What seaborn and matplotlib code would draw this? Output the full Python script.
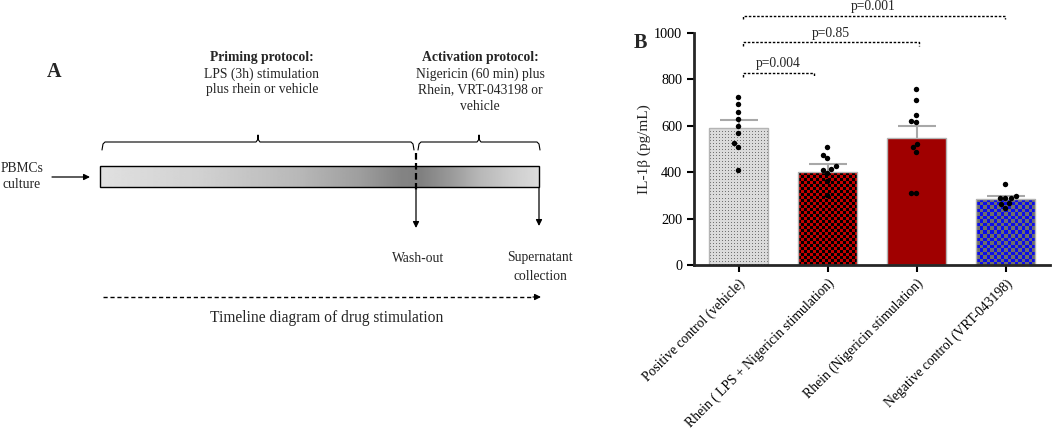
import numpy as np
import pandas as pd
import matplotlib
matplotlib.use("Agg")
import matplotlib.pyplot as plt
import seaborn as sns
from matplotlib.patches import Rectangle

# ---------------- data ----------------
categories = ["Positive control (vehicle)",
              "Rhein ( LPS + Nigericin stimulation)",
              "Rhein (Nigericin stimulation)",
              "Negative control (VRT-043198)"]
means = [591, 399, 549, 286]
sems = [32, 35, 49, 10]
points_pos = [723, 694, 661, 628, 599, 570, 524, 510, 409]
points_rlps = [510, 474, 460, 427, 414, 409, 395, 360, 300]
points_rnig = [759, 711, 648, 621, 615, 523, 507, 489, 309, 312]
points_neg = [349, 297, 287, 287, 287, 266, 263, 247]
yticks = [0, 200, 400, 600, 800, 1000]
pvals = ["p=0.004", "p=0.85", "p=0.001"]

sns.set_style("ticks")
plt.rcParams['font.family'] = ['Liberation Serif', 'DejaVu Serif']

W, H = 1052, 432
fig = plt.figure(figsize=(W / 100, H / 100), dpi=100)

# ---------------- Panel A (diagram) ----------------
axA = fig.add_axes([0, 0, 1, 1])
axA.set_xlim(0, W)
axA.set_ylim(H, 0)
axA.axis('off')

fsA = 9.8
axA.text(54, 72, "A", fontsize=14.5, fontweight='bold', ha='center', va='center')
axA.text(262, 57, "Priming protocol:", fontsize=fsA, fontweight='bold', ha='center', va='center')
axA.text(262, 74, "LPS (3h) stimulation", fontsize=fsA, ha='center', va='center')
axA.text(262, 90, "plus rhein or vehicle", fontsize=fsA, ha='center', va='center')
axA.text(480, 57, "Activation protocol:", fontsize=fsA, fontweight='bold', ha='center', va='center')
axA.text(480, 74, "Nigericin (60 min) plus", fontsize=fsA, ha='center', va='center')
axA.text(480, 90, "Rhein, VRT-043198 or", fontsize=fsA, ha='center', va='center')
axA.text(480, 106, "vehicle", fontsize=fsA, ha='center', va='center')


def brace(x1, x2, ytop, ybot, ypeak):
    xm = (x1 + x2) / 2
    xs = [x1, x1 + 1, x1 + 3, xm - 2, xm - 0.5, xm, xm + 0.5, xm + 2, x2 - 3, x2 - 1, x2]
    ys = [ybot, ytop + 2, ytop, ytop, ytop - 2, ypeak, ytop - 2, ytop, ytop, ytop + 2, ybot]
    axA.plot(xs, ys, color='black', lw=0.8)


brace(102, 414, 142, 150, 135)
brace(418, 540, 142, 150, 135)

# gradient bar
gx = np.linspace(100, 539, 440)
stops_x = [100, 200, 300, 360, 400, 420, 450, 480, 510, 539]
stops_v = [0.88, 0.82, 0.72, 0.62, 0.52, 0.50, 0.60, 0.72, 0.80, 0.86]
gv = np.interp(gx, stops_x, stops_v)
axA.imshow(np.tile(gv, (2, 1)), extent=(100, 539, 187, 166), cmap='gray', vmin=0, vmax=1,
           aspect='auto', interpolation='bilinear', zorder=1)
axA.add_patch(Rectangle((100, 166), 439, 21, fill=False, edgecolor='black', lw=1, zorder=2))
axA.set_xlim(0, W)
axA.set_ylim(H, 0)

arrow_kw = dict(arrowstyle='-|>', color='black', lw=0.9, mutation_scale=9, shrinkA=0, shrinkB=0)
axA.text(22, 169, "PBMCs", fontsize=fsA, ha='center', va='center')
axA.text(22, 185, "culture", fontsize=fsA, ha='center', va='center')
axA.annotate("", xy=(90, 177), xytext=(52, 177), arrowprops=arrow_kw)

axA.plot([416, 416], [153, 191], color='black', lw=1.6, ls=(0, (3, 1.5)), zorder=3)
axA.annotate("", xy=(416, 228), xytext=(416, 190), arrowprops=arrow_kw)
axA.annotate("", xy=(539, 226), xytext=(539, 188), arrowprops=arrow_kw)
axA.text(418, 258, "Wash-out", fontsize=fsA, ha='center', va='center')
axA.text(540, 258, "Supernatant", fontsize=fsA, ha='center', va='center')
axA.text(540, 277, "collection", fontsize=fsA, ha='center', va='center')

axA.plot([103, 536], [297, 297], color='black', lw=1.0, ls=(0, (3, 2)))
axA.annotate("", xy=(541, 297), xytext=(533, 297), arrowprops=arrow_kw)
axA.text(327, 318, "Timeline diagram of drug stimulation", fontsize=11.2, ha='center', va='center')

# ---------------- Panel B (bar chart) ----------------
axB = fig.add_axes([694 / W, (H - 265) / H, (1050 - 694) / W, 232 / H])
axB.patch.set_alpha(0)

bar_df = pd.DataFrame({"group": categories, "il1b": means})
face = ["#dcdcdc", "#b00000", "#a00000", "#1a1ae6"]
sns.barplot(data=bar_df, x="group", y="il1b", hue="group", order=categories, hue_order=categories,
            palette=face, saturation=1, errorbar=None, width=0.67, legend=False, ax=axB,
            edgecolor="#b4b4b4", linewidth=1)

axB.errorbar(range(len(categories)), means, yerr=sems, fmt='none', ecolor='#a8a8a8',
             elinewidth=1.5, capsize=14, capthick=1.5, zorder=1)

pts_df = pd.DataFrame({
    "group": [categories[0]] * len(points_pos) + [categories[1]] * len(points_rlps)
    + [categories[2]] * len(points_rnig) + [categories[3]] * len(points_neg),
    "val": points_pos + points_rlps + points_rnig + points_neg})
sns.swarmplot(data=pts_df, x="group", y="val", order=categories, color='black', size=3.9,
              ax=axB, zorder=4)

axB.set_xlim(-0.5, 3.5)
axB.set_ylim(0, 1000)

# pattern fills
bars = sorted(axB.patches, key=lambda p: p.get_x())


def pattern_fill(p, kind):
    bb = p.get_window_extent()
    w = max(int(round(bb.width)), 1)
    h = max(int(round(bb.height)), 1)
    jj, ii = np.meshgrid(np.arange(w), np.arange(h))
    img = np.zeros((h, w, 3))
    if kind == 'dots':
        bg = np.array([0.86, 0.86, 0.86])
        fg = np.array([0.45, 0.45, 0.45])
        mask = ((ii % 3) == 1) & ((jj % 3) == 1)
    elif kind == 'red':
        bg = np.array([0.76, 0.0, 0.0])
        fg = np.array([0.0, 0.0, 0.0])
        c = 3.0
        mask = ((np.floor(ii / c) + np.floor(jj / c)) % 2) == 0
    else:
        bg = np.array([0.05, 0.05, 0.92])
        fg = np.array([0.43, 0.43, 0.43])
        c = 3.5
        mask = ((np.floor(ii / c) + np.floor(jj / c)) % 2) == 0
    img[:] = bg
    img[mask] = fg
    im = axB.imshow(img, extent=(p.get_x(), p.get_x() + p.get_width(), 0, p.get_height()),
                    origin='upper', aspect='auto', interpolation='nearest', zorder=2)
    im.set_clip_path(p)
    p.set_facecolor('none')
    p.set_zorder(2.2)


for p in bars:
    p.set_zorder(2)
pattern_fill(bars[0], 'dots')
pattern_fill(bars[1], 'red')
pattern_fill(bars[3], 'blue')

axB.set_xlim(-0.5, 3.5)
axB.set_ylim(0, 1000)

for s in ['top', 'right']:
    axB.spines[s].set_visible(False)
for s in ['left', 'bottom']:
    axB.spines[s].set_linewidth(2)
axB.tick_params(axis='both', width=1.5, length=5, direction='out', labelsize=10.3, colors='black')
axB.set_yticks(yticks)
axB.set_xticks(range(len(categories)))
axB.set_xticklabels(categories, rotation=45, ha='right', rotation_mode='anchor', fontsize=9.8)
axB.set_xlabel("")
axB.set_ylabel("IL-1β (pg/mL)", fontsize=11, labelpad=2)


def sig(x1, x2, y, drop, label, ly):
    axB.plot([x1, x1, x2, x2], [y - drop, y, y, y - drop], color='black', lw=1.0,
             ls=(0, (1.8, 1.2)), clip_on=False, zorder=5)
    axB.text((x1 + x2) / 2, ly, label, ha='center', va='center', fontsize=9.8, clip_on=False)


sig(0.045, 0.85, 828, 18, pvals[0], 870)
sig(0.045, 2.03, 960, 16, pvals[1], 997)
sig(0.045, 2.99, 1075, 15, pvals[2], 1113)

fig.text(640 / W, 1 - 43 / H, "B", fontsize=14.5, fontweight='bold', ha='center', va='center')

fig.savefig("out.png", dpi=100)
